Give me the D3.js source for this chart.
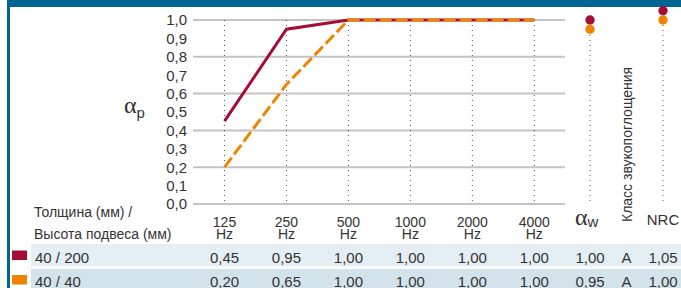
<!DOCTYPE html>
<html>
<head>
<meta charset="utf-8">
<script src="https://d3js.org/d3.v7.min.js"></script>
<style>
  body { margin: 0; background: #fff; }
  svg text { font-family: "Liberation Sans", Arial, sans-serif; fill: #333; }
  .alpha { font-family: "Liberation Serif", "Times New Roman", serif; }
</style>
</head>
<body>
<svg width="681" height="288"></svg>
<script>
// data
var freqs = ["125", "250", "500", "1000", "2000", "4000"];
var rows = ["40 / 200", "40 / 40"];
var vals200 = [0.45, 0.95, 1.00, 1.00, 1.00, 1.00];
var vals40 = [0.20, 0.65, 1.00, 1.00, 1.00, 1.00];
var alphaW = [1.00, 0.95];
var klass = ["A", "A"];
var nrc = [1.05, 1.00];
var yTicks = [0, 0.1, 0.2, 0.3, 0.4, 0.5, 0.6, 0.7, 0.8, 0.9, 1.0];
var gridTicks = [0, 0.2, 0.4, 0.6, 0.8, 1.0];

var colors = ["#a50d35", "#ef8400"];
var series = [vals200, vals40];

var svg = d3.select("svg");

var comma = d3.formatLocale({decimal: ",", thousands: " ", grouping: [3], currency: ["", ""]});
var f1 = comma.format(".1f"), f2 = comma.format(".2f");

var x = d3.scalePoint().domain(freqs).range([224.5, 534.3]);
var xe = d3.scalePoint().domain(["aw", "cls", "nrc"]).range([590, 663]);
var y = d3.scaleLinear().domain([0, 1]).range([204, 20]);

// frame
svg.append("rect").attr("x", 7).attr("y", 0).attr("width", 674).attr("height", 7).attr("fill", "#006592");
svg.append("rect").attr("x", 7).attr("y", 0).attr("width", 3).attr("height", 288).attr("fill", "#006592");

// table row backgrounds
var rowY = [244, 269];
var rowBg = ["#e5eef3", "#d3e3ec"];
svg.selectAll(".rowbg").data(rows).enter().append("rect")
  .attr("x", 31).attr("y", function(d, i) { return rowY[i]; })
  .attr("width", 650).attr("height", 22.5)
  .attr("fill", function(d, i) { return rowBg[i]; });

// grid
svg.selectAll(".grid").data(gridTicks).enter().append("line")
  .attr("x1", 193).attr("x2", 565)
  .attr("y1", function(d) { return y(d); }).attr("y2", function(d) { return y(d); })
  .attr("stroke", "#c4c4c4").attr("stroke-width", 2);

// dotted verticals
svg.selectAll(".vf").data(freqs).enter().append("line")
  .attr("x1", function(d) { return x(d); }).attr("x2", function(d) { return x(d); })
  .attr("y1", y(1)).attr("y2", y(0) - 1)
  .attr("stroke", "#555").attr("stroke-width", 1).attr("stroke-dasharray", "1,4");
svg.selectAll(".ve").data(["aw", "nrc"]).enter().append("line")
  .attr("x1", function(d) { return xe(d); }).attr("x2", function(d) { return xe(d); })
  .attr("y1", y(1)).attr("y2", y(0))
  .attr("stroke", "#555").attr("stroke-width", 1).attr("stroke-dasharray", "1,4");

// y axis
var yAxis = d3.axisLeft(y).tickValues(yTicks).tickSize(0).tickPadding(6).tickFormat(f1);
var ga = svg.append("g").attr("transform", "translate(193,0)").call(yAxis);
ga.select(".domain").remove();
ga.selectAll("text").style("font-size", "15px").attr("fill", "#333").style("font-family", "Liberation Sans, Arial, sans-serif");

// y label
var ap = svg.append("text").attr("class", "alpha").attr("x", 124).attr("y", 113).style("font-size", "24px");
ap.append("tspan").text("α");
ap.append("tspan").attr("dy", 5).style("font-size", "15px").style("font-family", "Liberation Sans, Arial, sans-serif").text("p");

// lines
var line = d3.line().x(function(d, i) { return x(freqs[i]); }).y(function(d) { return y(d); });
svg.append("path").datum(vals200).attr("d", line).attr("fill", "none")
  .attr("stroke", colors[0]).attr("stroke-width", 3);
svg.append("path").datum(vals40).attr("d", line).attr("fill", "none")
  .attr("stroke", colors[1]).attr("stroke-width", 3).attr("stroke-dasharray", "12,4");

// dots for αw and NRC
[alphaW, nrc].forEach(function(arr, k) {
  var key = k === 0 ? "aw" : "nrc";
  svg.selectAll(".dot" + key).data(arr).enter().append("circle")
    .attr("cx", xe(key)).attr("cy", function(d) { return y(d); })
    .attr("r", 4.7).attr("fill", function(d, i) { return colors[i]; });
});

// x tick labels
var xl = svg.selectAll(".xl").data(freqs).enter().append("text")
  .attr("text-anchor", "middle").style("font-size", "14px");
xl.append("tspan").attr("x", function(d) { return x(d); }).attr("y", 226.5).text(function(d) { return d; });
xl.append("tspan").attr("x", function(d) { return x(d); }).attr("y", 238.5).text("Hz");

// column headers
svg.append("text").attr("x", 34).attr("y", 216.5).style("font-size", "14px").text("Толщина (мм) /");
svg.append("text").attr("x", 34).attr("y", 238.5).style("font-size", "14px").text("Высота подвеса (мм)");

var aw = svg.append("text").attr("class", "alpha").attr("x", 575).attr("y", 225).style("font-size", "24px");
aw.append("tspan").text("α");
aw.append("tspan").attr("dy", 2).style("font-size", "15px").style("font-family", "Liberation Sans, Arial, sans-serif").text("w");

svg.append("text").attr("transform", "translate(" + (xe("cls") + 5) + ",222) rotate(-90)")
  .style("font-size", "14px").text("Класс звукопоглощения");
svg.append("text").attr("x", xe("nrc")).attr("y", 225).attr("text-anchor", "middle")
  .style("font-size", "15px").text("NRC");

// table rows
var baseY = [262.5, 287];
rows.forEach(function(r, i) {
  svg.append("rect").attr("x", 12).attr("y", baseY[i] - 12).attr("width", 15).attr("height", 9.5).attr("fill", colors[i]);
  svg.append("text").attr("x", 35).attr("y", baseY[i]).style("font-size", "15px").text(r);
  svg.selectAll(".v" + i).data(series[i]).enter().append("text")
    .attr("x", function(d, j) { return x(freqs[j]); }).attr("y", baseY[i])
    .attr("text-anchor", "middle").style("font-size", "15px").text(function(d) { return f2(d); });
  svg.append("text").attr("x", xe("aw")).attr("y", baseY[i]).attr("text-anchor", "middle").style("font-size", "15px").text(f2(alphaW[i]));
  svg.append("text").attr("x", xe("cls")).attr("y", baseY[i]).attr("text-anchor", "middle").style("font-size", "15px").text(klass[i]);
  svg.append("text").attr("x", xe("nrc")).attr("y", baseY[i]).attr("text-anchor", "middle").style("font-size", "15px").text(f2(nrc[i]));
});
</script>
</body>
</html>
